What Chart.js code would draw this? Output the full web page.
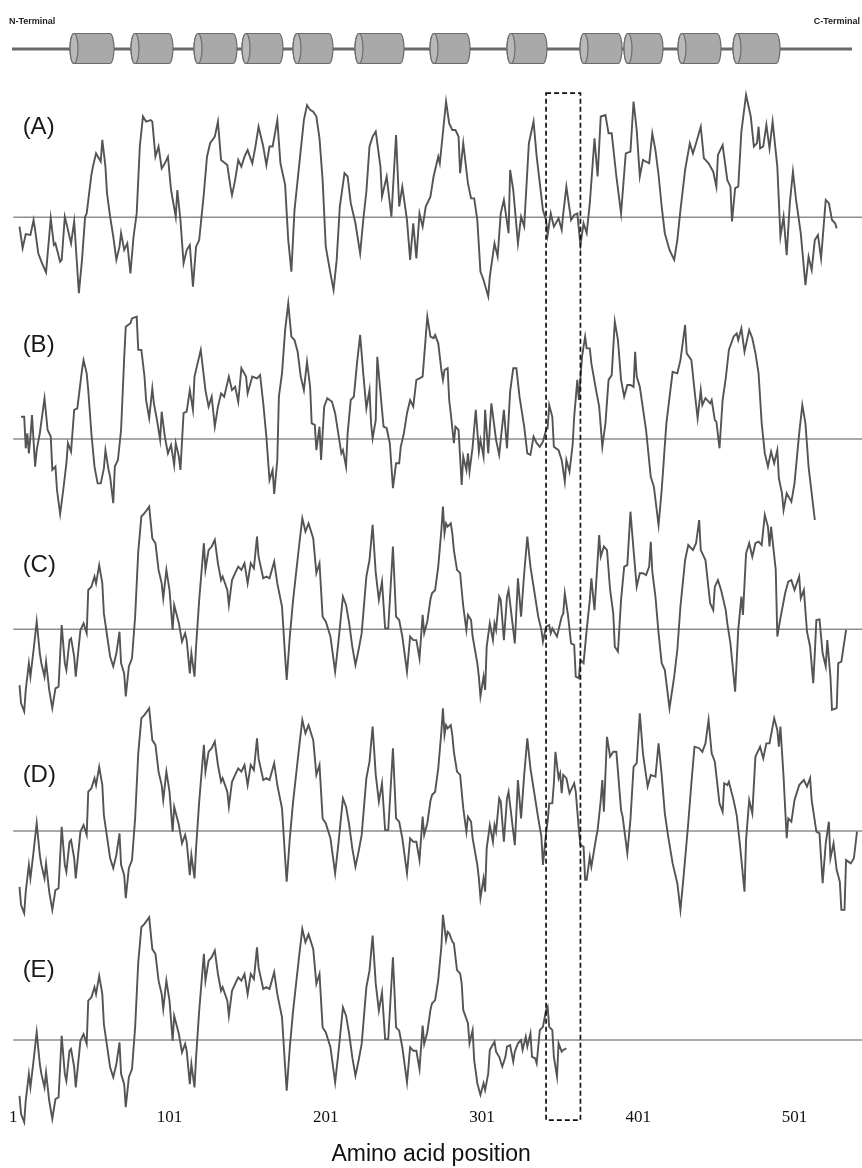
<!DOCTYPE html>
<html>
<head>
<meta charset="utf-8">
<title>Hydropathy profiles</title>
<style>
    html, body {
        margin: 0;
        padding: 0;
        background: #ffffff;
    }
    #wrap {
        position: relative;
        width: 862px;
        height: 1168px;
    }
</style>
<script src="https://cdn.jsdelivr.net/npm/chart.js"></script>
</head>
<body>
<div id="wrap"><canvas id="plot"></canvas></div>
<script>
// [residue, hydropathy], one array per panel
const profileA = [[5,-0.31],[7,-1.03],[9,-0.56],[12,-0.59],[14,-0.09],[15,-0.42],[17,-1.2],[19,-1.48],[22,-1.84],[25,-0.03],[27,-0.92],[28,-0.87],[31,-1.48],[32,-1.42],[34,0.02],[36,-0.42],[38,-0.87],[40,-0.14],[43,-2.53],[45,-1.42],[47,0.02],[48,0.13],[51,1.41],[52,1.69],[54,2.13],[57,1.86],[58,2.58],[60,1.69],[61,0.8],[63,0.02],[65,-0.64],[67,-1.42],[69,-0.98],[70,-0.53],[72,-1.09],[74,-0.87],[76,-1.87],[78,-0.64],[80,0.13],[82,2.36],[84,3.36],[86,3.19],[89,3.24],[90,3.19],[92,2.02],[94,2.36],[96,1.63],[98,1.8],[100,2.02],[102,0.91],[105,0.02],[106,0.91],[108,-0.09],[110,-1.53],[112,-1.09],[114,-0.92],[116,-2.31],[118,-0.98],[120,-0.76],[123,0.8],[125,2.02],[127,2.47],[130,2.69],[132,3.19],[134,1.91],[138,1.74],[140,1.02],[141,0.74],[143,1.24],[145,1.91],[147,1.69],[149,2.02],[151,2.24],[154,1.8],[156,2.36],[158,3.02],[161,2.36],[163,1.74],[165,2.36],[167,2.36],[170,3.24],[172,1.8],[175,1.08],[177,-0.76],[179,-1.81],[181,0.24],[183,1.24],[187,3.24],[189,3.74],[191,3.58],[193,3.52],[195,3.36],[197,2.63],[199,1.24],[201,-0.98],[204,-1.87],[206,-2.42],[208,-1.42],[210,0.36],[213,1.47],[215,1.36],[217,0.47],[220,-0.2],[223,-1.2],[225,-0.09],[227,0.86],[229,2.36],[231,2.69],[233,2.86],[236,1.69],[237,0.69],[240,1.36],[243,0.02],[246,2.74],[248,0.36],[250,1.02],[253,-0.09],[255,-1.42],[257,-0.2],[259,-1.37],[261,0.13],[263,-0.31],[265,0.36],[268,0.69],[270,1.36],[273,2.02],[274,1.8],[278,3.86],[280,3.13],[282,2.91],[284,2.91],[286,2.69],[287,1.47],[289,2.47],[292,1.13],[294,0.63],[296,0.63],[298,-0.09],[300,-1.81],[302,-2.09],[305,-2.64],[306,-1.98],[309,-0.87],[311,-1.31],[313,0.13],[315,0.58],[318,-0.53],[319,1.58],[321,0.91],[324,-0.87],[326,0.02],[328,-0.31],[331,2.47],[334,3.19],[336,2.02],[340,0.24],[342,-0.09],[343,-0.59],[345,0.13],[347,-0.31],[350,-0.03],[352,-0.42],[353,0.13],[355,1.02],[358,-0.09],[360,0.08],[362,0.13],[364,-0.92],[366,-0.2],[368,-0.53],[370,0.47],[373,2.63],[375,1.36],[377,3.36],[380,3.41],[382,2.8],[384,2.8],[387,1.36],[390,0.13],[393,2.13],[396,2.19],[398,3.86],[400,2.91],[402,1.36],[404,1.91],[408,1.8],[410,2.8],[412,2.24],[414,1.41],[416,0.36],[418,-0.53],[421,-1.09],[424,-1.42],[426,-0.76],[428,0.24],[431,1.58],[434,2.47],[436,2.13],[438,2.47],[441,3.02],[443,1.97],[446,1.8],[449,1.52],[451,1.02],[452,2.08],[455,2.41],[458,1.24],[460,1.02],[461,-0.14],[463,0.97],[465,1.02],[467,2.86],[470,4.08],[473,3.36],[475,2.36],[477,2.47],[478,3.02],[479,2.3],[481,2.36],[483,3.08],[485,2.3],[487,3.19],[490,1.69],[492,-0.64],[494,0.02],[496,-1.26],[498,0.47],[500,1.52],[502,0.58],[505,-0.53],[508,-2.26],[510,-1.31],[512,-1.76],[514,-0.76],[516,-0.59],[518,-1.37],[521,0.58],[523,0.47],[525,-0.09],[527,-0.2],[528,-0.37]];

const profileB = [[6,0.74],[8,0.74],[9,-0.31],[10,0.19],[11,-0.48],[12,0.08],[13,0.8],[15,-0.92],[16,-0.37],[18,0.19],[21,1.36],[23,0.3],[25,0.08],[26,-1.03],[28,-0.92],[29,-1.7],[31,-2.5],[33,-1.7],[35,-0.81],[36,-0.14],[38,-0.42],[40,0.97],[42,1.02],[45,2.3],[46,2.63],[48,2.19],[49,1.63],[51,0.19],[53,-0.92],[55,-1.48],[57,-1.48],[59,-0.98],[60,-0.37],[62,-1.03],[63,-1.26],[65,-2.14],[66,-0.92],[68,-0.7],[70,0.3],[72,2.69],[73,3.74],[76,3.86],[77,4.02],[80,4.08],[81,2.97],[83,2.97],[85,2.08],[86,1.3],[88,0.69],[90,1.69],[91,1.19],[93,0.63],[95,-0.03],[96,0.91],[98,0.08],[100,-0.48],[102,-0.2],[104,-0.87],[105,-0.14],[107,-0.59],[108,-1.03],[110,0.86],[112,0.91],[114,1.63],[116,0.97],[117,2.08],[121,2.97],[123,2.08],[124,1.63],[126,1.08],[128,1.41],[130,0.41],[132,1.08],[134,1.52],[136,1.41],[139,2.08],[141,1.63],[143,1.74],[145,1.24],[147,2.36],[150,2.08],[151,1.52],[154,2.08],[157,2.02],[159,2.13],[161,1.19],[163,0.08],[165,-1.37],[167,-1.03],[168,-1.83],[170,-0.7],[171,1.41],[173,2.19],[175,3.63],[177,4.52],[179,3.41],[181,3.3],[183,2.91],[185,2.08],[187,1.63],[189,2.58],[191,1.74],[192,0.52],[194,0.47],[195,-0.37],[197,0.41],[198,-0.7],[200,1.08],[202,1.36],[205,1.24],[207,0.86],[209,0.19],[211,-0.48],[212,-0.37],[214,-0.92],[215,0.19],[217,1.3],[219,1.41],[221,2.52],[223,3.47],[225,2.19],[227,1.02],[229,1.63],[230,0.52],[231,0.02],[233,0.63],[234,2.74],[237,0.97],[238,0.41],[240,0.36],[242,-0.14],[244,-1.64],[246,-0.81],[248,-0.81],[249,-0.26],[251,0.19],[253,0.86],[255,1.3],[257,1.08],[259,1.97],[261,2.02],[263,2.08],[266,4.08],[268,3.41],[270,3.36],[271,3.47],[273,3.19],[275,2.3],[276,1.97],[277,2.3],[279,2.36],[280,1.3],[281,0.86],[283,-0.14],[284,0.41],[286,0.3],[288,-1.53],[289,-0.59],[291,-1.03],[292,-0.48],[293,-1.09],[295,-0.26],[297,0.97],[299,-0.42],[300,-0.03],[302,-0.59],[303,0.97],[305,-0.48],[307,1.19],[310,-0.03],[312,-0.53],[313,-0.03],[315,0.97],[317,-0.31],[319,1.58],[321,2.36],[323,2.36],[325,1.41],[328,0.41],[330,-0.48],[332,-0.53],[334,0.08],[336,-0.14],[338,-0.26],[340,-0.09],[342,0.3],[343,0.36],[344,1.13],[346,0.74],[347,-0.26],[350,-0.37],[352,-0.7],[354,-1.42],[355,-0.7],[357,-1.09],[359,-0.2],[360,0.74],[362,1.97],[363,1.3],[365,2.74],[367,3.41],[368,3.02],[370,3.02],[371,2.52],[374,1.63],[376,1.08],[378,-0.26],[380,0.52],[382,1.97],[384,2.13],[386,3.91],[388,3.3],[390,1.97],[392,1.41],[394,1.8],[396,1.8],[398,1.74],[399,2.91],[400,2.08],[402,1.74],[406,0.3],[409,-1.26],[411,-1.59],[414,-2.87],[416,-1.7],[419,0.52],[423,2.24],[426,2.19],[428,2.63],[431,3.8],[432,2.86],[435,2.63],[437,1.63],[439,0.69],[441,1.63],[442,1.13],[444,1.36],[447,1.19],[448,1.3],[450,0.63],[451,0.58],[453,-0.31],[455,1.3],[457,2.02],[459,2.97],[462,3.41],[464,3.52],[465,3.3],[467,3.69],[469,2.91],[472,3.63],[474,3.36],[476,2.86],[478,2.19],[480,0.52],[482,-0.48],[484,-0.92],[486,-0.42],[488,-0.81],[490,-0.37],[491,-1.31],[493,-1.81],[494,-2.37],[496,-1.81],[499,-2.09],[501,-1.48],[504,0.19],[506,1.13],[508,0.52],[510,-0.92],[512,-1.81],[514,-2.7]];

// N-terminal half, reads the same in panels C, D and E
const profileCore = [[5,-1.86],[6,-2.47],[8,-2.74],[9,-2.02],[11,-1.13],[12,-1.58],[14,-0.69],[16,0.26],[18,-0.8],[19,-1.13],[21,-1.58],[22,-1.08],[24,-2.02],[26,-2.63],[28,-1.97],[30,-1.91],[32,0.14],[34,-1.13],[35,-1.36],[37,-0.36],[38,-0.3],[40,-0.91],[41,-1.58],[44,-0.02],[46,0.2],[48,-0.13],[49,1.31],[51,1.42],[53,1.76],[54,1.53],[56,2.14],[58,1.53],[59,0.53],[61,-0.19],[63,-0.91],[65,-1.24],[67,-0.8],[69,-0.08],[70,-1.13],[72,-1.47],[73,-2.24],[75,-1.24],[77,-0.97],[79,0.42],[81,2.59],[83,3.76],[85,3.87],[88,4.09],[90,3.03],[92,2.87],[94,1.98],[96,1.53],[97,1.03],[99,1.98],[101,1.31],[103,-0.02],[104,0.81],[107,0.2],[109,-0.41],[111,-0.13],[112,-0.36],[114,-1.47],[115,-0.8],[117,-1.58],[118,-0.58],[120,0.98],[123,2.87],[124,1.98],[126,2.64],[128,2.76],[130,2.98],[132,2.2],[134,1.64],[135,1.76],[138,1.31],[139,0.81],[141,1.64],[143,1.87],[145,2.09],[147,1.98],[149,2.2],[151,1.53],[153,2.2],[155,2.03],[157,3.09],[158,2.42],[161,1.7],[163,1.76],[165,1.7],[168,2.26],[170,1.53],[173,0.76],[175,-0.91],[176,-1.69],[178,-0.24],[180,0.92],[182,1.87],[184,2.81],[186,3.7],[188,3.26],[190,3.53],[193,3.03],[195,1.87],[197,2.2],[199,0.42],[201,0.26],[204,-0.24],[207,-1.41],[209,-0.47],[212,1.09],[214,0.81],[216,0.2],[218,-0.58],[220,-1.19],[222,-0.69],[224,-0.13],[227,1.76],[229,2.31],[231,3.48],[233,1.87],[235,0.98],[237,1.59],[239,0.03],[241,0.03],[244,2.76],[246,0.42],[248,0.31],[250,-0.24],[253,-1.41],[255,-0.24],[257,-0.36],[259,-0.36],[261,-0.97],[263,0.48],[264,-0.13],[266,0.26],[268,1.0]];

const tailC = [[269,1.2],[271,1.31],[273,2.09],[275,3.31],[276,4.09],[277,3.2],[278,3.53],[279,3.42],[281,3.53],[282,3.2],[283,2.64],[285,1.98],[287,1.87],[288,1.31],[289,0.76],[291,-0.02],[292,0.48],[294,0.31],[295,-0.24],[298,-1.13],[299,-1.58],[300,-2.24],[302,-1.58],[303,-2.02],[304,-0.58],[306,0.2],[308,-0.36],[309,0.2],[310,-0.02],[312,1.09],[313,0.98],[315,-0.36],[317,1.09],[318,1.31],[320,0.42],[322,-0.47],[324,1.7],[326,0.42],[328,1.87],[330,3.09],[332,2.09],[334,1.42],[337,0.42],[339,-0.02],[340,-0.41],[342,0.09],[344,0.14],[345,-0.13],[346,0.03],[349,-0.24],[350,-0.02],[352,0.42],[353,0.53],[354,1.2],[356,0.48],[358,-0.47],[360,-0.52],[361,-1.58],[363,-1.63],[364,-1.02],[366,-1.13],[368,-0.02],[370,0.98],[371,1.7],[373,0.64],[376,3.14],[377,2.42],[379,2.76],[381,2.64],[383,1.31],[385,0.53],[386,-0.58],[388,-0.74],[390,0.98],[392,2.09],[394,2.14],[396,3.92],[398,2.64],[400,1.42],[402,1.87],[404,1.87],[406,1.81],[408,2.09],[409,2.92],[410,1.92],[412,1.09],[414,-0.13],[416,-1.13],[418,-1.36],[421,-2.63],[424,-1.58],[426,-0.69],[428,0.76],[431,2.31],[433,2.81],[436,2.64],[438,2.87],[440,3.64],[441,2.64],[444,2.31],[447,0.87],[449,0.64],[450,1.42],[452,1.64],[454,1.31],[457,0.64],[458,0.2],[460,-0.47],[463,-2.08],[465,-0.02],[467,1.09],[468,0.48],[470,2.53],[472,2.87],[474,2.42],[476,2.87],[478,2.92],[480,2.81],[482,3.81],[484,3.42],[485,2.76],[486,3.42],[489,1.98],[490,-0.24],[492,0.37],[495,1.2],[497,1.59],[499,1.64],[501,1.31],[504,1.76],[505,1.03],[507,1.31],[509,-0.08],[511,-0.58],[513,-1.8],[514,-0.8],[515,0.31],[517,0.33],[519,-0.8],[521,-1.24],[522,-0.36],[524,-1.58],[525,-2.69],[528,-2.63],[529,-1.13],[531,-1.08],[534,-0.02]];

const tailD = [[269,1.2],[271,1.31],[273,2.09],[275,3.31],[276,4.09],[277,3.2],[278,3.53],[279,3.42],[281,3.53],[282,3.2],[283,2.64],[285,1.98],[287,1.87],[288,1.31],[289,0.76],[291,-0.02],[292,0.48],[294,0.31],[295,-0.24],[298,-1.13],[299,-1.58],[300,-2.24],[302,-1.58],[303,-2.02],[304,-0.58],[306,0.2],[308,-0.36],[309,0.2],[310,-0.02],[312,1.09],[313,0.98],[315,-0.36],[317,1.09],[318,1.31],[320,0.42],[322,-0.47],[324,1.7],[326,0.42],[328,1.87],[330,3.09],[332,2.09],[334,1.42],[337,0.42],[339,-0.19],[340,-1.13],[342,-0.08],[343,0.31],[344,0.92],[346,0.92],[347,1.59],[348,2.64],[350,1.76],[351,1.92],[352,1.26],[353,1.87],[355,1.76],[357,1.26],[358,1.37],[360,1.59],[361,1.31],[363,0.03],[364,-0.47],[366,-0.52],[367,-1.63],[368,-1.63],[370,-0.86],[371,-1.19],[374,-0.24],[375,0.03],[377,1.03],[378,1.7],[379,0.64],[381,3.14],[383,2.48],[385,2.64],[387,2.64],[390,0.7],[391,0.48],[394,-0.74],[396,0.37],[398,2.14],[400,2.26],[402,3.92],[404,2.59],[407,1.48],[409,1.87],[412,1.81],[414,2.92],[416,1.87],[418,0.59],[420,-0.13],[423,-1.08],[426,-1.74],[428,-2.63],[430,-1.52],[433,0.26],[435,1.59],[437,2.81],[440,2.76],[442,2.64],[444,2.92],[446,3.7],[448,2.59],[450,2.31],[453,0.92],[455,0.64],[456,1.59],[458,1.53],[459,1.64],[462,1.03],[464,0.53],[466,-0.41],[469,-2.02],[470,-0.3],[472,1.03],[474,0.59],[476,2.48],[479,2.81],[481,2.42],[483,2.92],[485,2.92],[488,3.76],[490,3.37],[491,2.81],[492,3.48],[494,1.81],[496,-0.24],[497,0.42],[499,0.31],[501,1.03],[504,1.53],[507,1.7],[509,1.48],[511,1.76],[512,1.03],[515,-0.02],[517,-0.08],[519,-1.74],[521,-0.41],[523,0.31],[524,-0.91],[526,-0.41],[528,-1.3],[530,-1.69],[531,-2.63],[533,-2.63],[534,-0.97],[537,-1.08],[539,-0.91],[541,-0.02]];

const tailE = [[269,1.22],[271,1.33],[273,2.0],[275,3.11],[276,4.17],[278,3.33],[279,3.61],[280,3.56],[282,3.28],[283,3.22],[285,2.33],[287,2.22],[288,1.89],[289,1.0],[292,0.56],[293,-0.11],[295,0.33],[296,-0.67],[298,-1.44],[300,-1.83],[302,-1.44],[303,-1.67],[305,-1.11],[306,-0.33],[309,-0.06],[310,-0.39],[312,-0.56],[314,-0.89],[316,-0.56],[317,-0.22],[319,-0.17],[321,-0.72],[322,-0.39],[324,-0.11],[326,0],[327,-0.33],[329,0.11],[330,-0.22],[332,0.22],[333,-0.56],[335,-0.61],[336,-0.78],[338,0.33],[340,0.44],[342,1.0],[343,1.11],[344,0.44],[346,0.33],[347,-0.56],[349,-1.22],[350,-0.11],[352,-0.39],[353,-0.33],[355,-0.28]];

const panelNames = ['(A)', '(B)', '(C)', '(D)', '(E)'];
const profiles = [profileA, profileB, profileCore.concat(tailC), profileCore.concat(tailD), profileCore.concat(tailE)];
const tickResidues = [1, 101, 201, 301, 401, 501];
const boxResidues = [342, 364];   // dashed frame around the region of interest
const helices = [[74, 114], [135, 173], [198, 237], [246, 283], [297, 333], [359, 404], [434, 470], [511, 547], [584, 622], [628, 663], [682, 721], [737, 780]];

// page layout of the five stacked panels (pixels)
const PX_PER_UNIT = 30;
const panelBands = [
    { top: 88,  bottom: 318,  zero: 217.3, label: 3.0 },
    { top: 318, bottom: 530,  zero: 439,   label: 3.13 },
    { top: 530, bottom: 725,  zero: 629.3, label: 2.14 },
    { top: 725, bottom: 930,  zero: 831,   label: 1.87 },
    { top: 930, bottom: 1098, zero: 1040,  label: 2.33 }
];
const X_MIN = -7.3, X_MAX = 544.2;

function drawCylinder(ctx, x1, x2, cy, ry) {
    const rx = 4;
    ctx.beginPath();
    ctx.moveTo(x1, cy - ry);
    ctx.lineTo(x2 - rx, cy - ry);
    ctx.ellipse(x2 - rx, cy, rx, ry, 0, -Math.PI / 2, Math.PI / 2);
    ctx.lineTo(x1, cy + ry);
    ctx.ellipse(x1, cy, rx, ry, 0, Math.PI / 2, Math.PI * 1.5);
    ctx.closePath();
    ctx.fillStyle = '#a9a9a9';
    ctx.fill();
    ctx.strokeStyle = '#6b6b6b';
    ctx.lineWidth = 1.2;
    ctx.stroke();
    ctx.beginPath();
    ctx.ellipse(x1, cy, rx, ry, 0, 0, Math.PI * 2);
    ctx.fillStyle = '#b9b9b9';
    ctx.fill();
    ctx.stroke();
}

function drawTopology(ctx) {
    ctx.save();
    ctx.strokeStyle = '#6a6a6a';
    ctx.lineWidth = 3;
    ctx.beginPath();
    ctx.moveTo(12, 49);
    ctx.lineTo(852, 49);
    ctx.stroke();
    helices.forEach(h => drawCylinder(ctx, h[0], h[1], 48.5, 15));
    ctx.fillStyle = '#222';
    ctx.font = 'bold 9px "Liberation Sans Narrow", "Liberation Sans", sans-serif';
    ctx.textBaseline = 'middle';
    ctx.textAlign = 'left';
    ctx.fillText('N-Terminal', 9, 22);
    ctx.textAlign = 'right';
    ctx.fillText('C-Terminal', 860, 22);
    ctx.restore();
}

const decorations = {
    id: 'decorations',
    afterDraw(chart) {
        const ctx = chart.ctx;
        const x = chart.scales.x;
        ctx.save();
        ctx.fillStyle = '#1a1a1a';
        ctx.font = '24px "Liberation Sans", Arial, sans-serif';
        ctx.textBaseline = 'middle';
        ctx.textAlign = 'left';
        panelNames.forEach((name, i) => {
            const y = chart.scales['y' + i].getPixelForValue(panelBands[i].label);
            ctx.fillText(name, x.getPixelForValue(7), y);
        });
        const left = x.getPixelForValue(boxResidues[0]);
        const right = x.getPixelForValue(boxResidues[1]);
        const top = chart.scales.y0.getPixelForValue(4.14);
        const bottom = chart.scales.y4.getPixelForValue(-2.67);
        ctx.setLineDash([5, 3]);
        ctx.lineWidth = 1.7;
        ctx.strokeStyle = '#111';
        ctx.strokeRect(left, top, right - left, bottom - top);
        ctx.restore();
        drawTopology(ctx);
    }
};

const scales = {
    x: {
        type: 'linear',
        position: 'bottom',
        min: X_MIN,
        max: X_MAX,
        grid: { display: false, drawTicks: false },
        border: { display: false },
        afterBuildTicks: axis => { axis.ticks = tickResidues.map(v => ({ value: v })); },
        afterFit: axis => { axis.height = 70; },
        ticks: {
            autoSkip: false,
            maxRotation: 0,
            padding: 9,
            color: '#111',
            font: { family: '"Liberation Serif", "Times New Roman", serif', size: 17 },
            callback: v => String(v)
        },
        title: {
            display: true,
            text: 'Amino acid position',
            color: '#111',
            font: { family: '"Liberation Sans", Arial, sans-serif', size: 23 },
            padding: { top: 0, bottom: 0 }
        }
    }
};
panelBands.forEach((b, i) => {
    scales['y' + i] = {
        type: 'linear',
        position: 'right',
        stack: 'panels',
        stackWeight: b.bottom - b.top,
        display: false,
        min: -(b.bottom - b.zero) / PX_PER_UNIT,
        max: (b.zero - b.top) / PX_PER_UNIT
    };
});

const datasets = [];
profiles.forEach((prof, i) => {
    datasets.push({
        label: panelNames[i],
        data: prof.map(p => ({ x: p[0], y: p[1] })),
        yAxisID: 'y' + i,
        borderColor: '#545454',
        borderWidth: 1.9,
        pointRadius: 0,
        tension: 0,
        clip: false
    });
});
profiles.forEach((prof, i) => {
    datasets.push({
        label: 'zero ' + panelNames[i],
        data: [{ x: 1, y: 0 }, { x: X_MAX, y: 0 }],
        yAxisID: 'y' + i,
        borderColor: '#8e8e8e',
        borderWidth: 1.5,
        pointRadius: 0,
        clip: false
    });
});

new Chart(document.getElementById('plot').getContext('2d'), {
    type: 'line',
    data: { datasets: datasets },
    options: {
        responsive: true,
        maintainAspectRatio: false,
        animation: false,
        events: [],
        layout: { padding: { top: 88, left: 0, right: 0, bottom: 0 } },
        scales: scales,
        plugins: {
            legend: { display: false },
            tooltip: { enabled: false }
        }
    },
    plugins: [decorations]
});
</script>
</body>
</html>
